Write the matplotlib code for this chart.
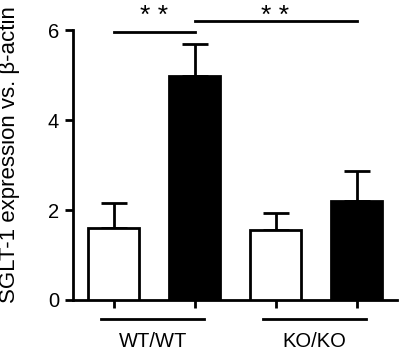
import numpy as np
import matplotlib
matplotlib.use("Agg")
import matplotlib.pyplot as plt

plt.rcParams["font.family"] = ["Liberation Sans", "DejaVu Sans"]

# данные
groups = ["WT/WT", "KO/KO"]
means = [1.59, 4.98, 1.56, 2.21]
errors = [0.57, 0.72, 0.37, 0.66]
fills = ["white", "black", "white", "black"]
positions = [0, 1, 2, 3]
yticks = [0, 2, 4, 6]

fig = plt.figure(figsize=(4.0, 3.51), dpi=100)
ax = fig.add_axes([0.1825, 0.1453, 0.81, 0.7692])

lw = 2.0
ax.bar(positions, means, width=0.64, color=fills, edgecolor="black", linewidth=lw, zorder=3)
ax.errorbar(positions, means, yerr=[np.zeros(4), errors], fmt="none", ecolor="black",
            elinewidth=lw, capsize=9.5, capthick=lw, zorder=2)

ax.set_xlim(-0.5, 3.5)
ax.set_ylim(0, 6)
ax.set_yticks(yticks)
ax.set_yticklabels([str(t) for t in yticks], fontsize=14.5)
ax.set_xticks(positions)
ax.set_xticklabels([])
ax.tick_params(axis="both", width=lw, length=6, direction="out")
ax.tick_params(axis="y", pad=4)
for s in ["top", "right"]:
    ax.spines[s].set_visible(False)
for s in ["left", "bottom"]:
    ax.spines[s].set_linewidth(lw)

ax.set_ylabel("SGLT-1 expression vs. β-actin", fontsize=16)
ax.yaxis.set_label_coords(-0.165, 0.54)

# подписи групп с линиями
for i, name in enumerate(groups):
    x0 = positions[2 * i] - 0.15
    x1 = positions[2 * i + 1] + 0.12
    ax.plot([x0, x1], [-0.43, -0.43], color="black", lw=lw, clip_on=False)
    ax.text((x0 + x1) / 2, -1.05, name, ha="center", va="baseline", fontsize=14.5)

# значимость
ax.plot([positions[0], positions[1]], [5.95, 5.95], color="black", lw=lw, clip_on=False)
ax.plot([positions[1], positions[3]], [6.19, 6.19], color="black", lw=lw, clip_on=False)
for xs in [0.5, 2.0]:
    ax.text(xs, 6.16, "* *", ha="center", va="baseline", fontsize=19)

fig.savefig("out.png", dpi=100)
